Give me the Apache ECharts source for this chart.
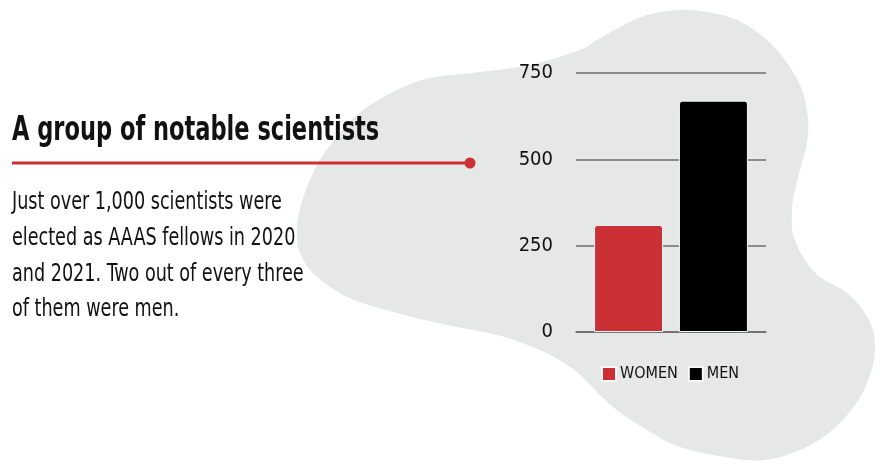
<!DOCTYPE html>
<html>
<head>
<meta charset="utf-8">
<script src="https://cdn.jsdelivr.net/npm/echarts@6/dist/echarts.min.js"></script>
<style>
html,body{margin:0;padding:0;background:#fff;}
#c{width:890px;height:470px;}
</style>
</head>
<body>
<div id="c"></div>
<script>
// ---- data ----
var categories = ['AAAS fellows 2020–2021'];
var seriesNames = ['WOMEN', 'MEN'];
var womenValues = [310];
var menValues = [670];
var yTicks = [0, 250, 500, 750];

var titleText = 'A group of notable scientists';
var bodyLines = [
  'Just over 1,000 scientists were',
  'elected as AAAS fellows in 2020',
  'and 2021. Two out of every three',
  'of them were men.'
];

// ---- decorative background blob outline ----
var blobPts = [[580,50],[530,65],[480,72],[430,78],[397,90],[363,110],[340,133],[320,160],[307,187],[298,217],[297,240],[300,253],[313,273],[347,297],[397,313],[447,325],[497,335],[540,350],[570,367],[582,377],[613,407],[647,430],[680,447],[730,458],[765,460],[800,450],[830,432],[855,405],[870,375],[875,345],[868,318],[847,293],[820,277],[803,257],[795,240],[792,227],[793,200],[800,170],[807,143],[808,120],[803,93],[790,67],[767,40],[737,20],[707,12],[680,10],[647,15],[620,27],[597,40]];
function smoothPoints(p, steps){
  var n = p.length, out = [];
  for (var i = 0; i < n; i++){
    var p0 = p[(i-1+n)%n], p1 = p[i], p2 = p[(i+1)%n], p3 = p[(i+2)%n];
    for (var s = 0; s < steps; s++){
      var t = s / steps, t2 = t*t, t3 = t2*t;
      var x = 0.5*((2*p1[0]) + (-p0[0]+p2[0])*t + (2*p0[0]-5*p1[0]+4*p2[0]-p3[0])*t2 + (-p0[0]+3*p1[0]-3*p2[0]+p3[0])*t3);
      var y = 0.5*((2*p1[1]) + (-p0[1]+p2[1])*t + (2*p0[1]-5*p1[1]+4*p2[1]-p3[1])*t2 + (-p0[1]+3*p1[1]-3*p2[1]+p3[1])*t3);
      out.push([x, y]);
    }
  }
  return out;
}

var COND = "'DejaVu Sans Condensed','DejaVu Sans',sans-serif";
var RED = '#cb3035';

var chart = echarts.init(document.getElementById('c'));
var graphics = [
  { type: 'polygon', z: -10, silent: true, shape: { points: smoothPoints(blobPts, 8) }, style: { fill: '#e6e7e7' } },
  { type: 'line', shape: { x1: 12, y1: 163, x2: 470, y2: 163 }, style: { stroke: RED, lineWidth: 3 } },
  { type: 'circle', shape: { cx: 470, cy: 163, r: 5.5 }, style: { fill: RED } },
  { type: 'text', x: 12, y: 114, scaleX: 0.736,
    style: { text: titleText, font: 'bold 34px ' + COND, fill: '#111' } }
];
bodyLines.forEach(function(t, i){
  graphics.push({ type: 'text', x: 12, y: 191 + i * 35.7, scaleX: 0.815,
    style: { text: t, font: '24px ' + COND, fill: '#111' } });
});

chart.setOption({
  animation: false,
  graphic: graphics,
  legend: {
    data: seriesNames, left: 601, top: 366, padding: 0, itemWidth: 14, itemHeight: 14, itemGap: 10,
    icon: 'rect',
    textStyle: { fontFamily: COND, fontSize: 16, color: '#111', padding: [0,0,0,-1] }
  },
  grid: { left: 576, right: 124, top: 73, bottom: 138, containLabel: false },
  xAxis: {
    type: 'category', data: categories,
    axisLine: { show: true, lineStyle: { color: '#6d6e70', width: 1.5 } },
    axisTick: { show: false }, axisLabel: { show: false }
  },
  yAxis: {
    type: 'value', min: yTicks[0], max: yTicks[yTicks.length-1], interval: yTicks[1] - yTicks[0],
    axisLine: { show: false }, axisTick: { show: false },
    axisLabel: { margin: 23, fontFamily: COND, fontSize: 20, color: '#111' },
    splitLine: { lineStyle: { color: '#6d6e70', width: 1.5 } }
  },
  series: [
    { name: seriesNames[0], type: 'bar', data: womenValues, barWidth: 69, barGap: '23%',
      itemStyle: { color: RED, borderRadius: [3,3,0,0], borderColor: '#f7f7f7', borderWidth: 1 } },
    { name: seriesNames[1], type: 'bar', data: menValues, barWidth: 69,
      itemStyle: { color: '#000', borderRadius: [3,3,0,0], borderColor: '#f7f7f7', borderWidth: 1 } }
  ]
});
</script>
</body>
</html>
